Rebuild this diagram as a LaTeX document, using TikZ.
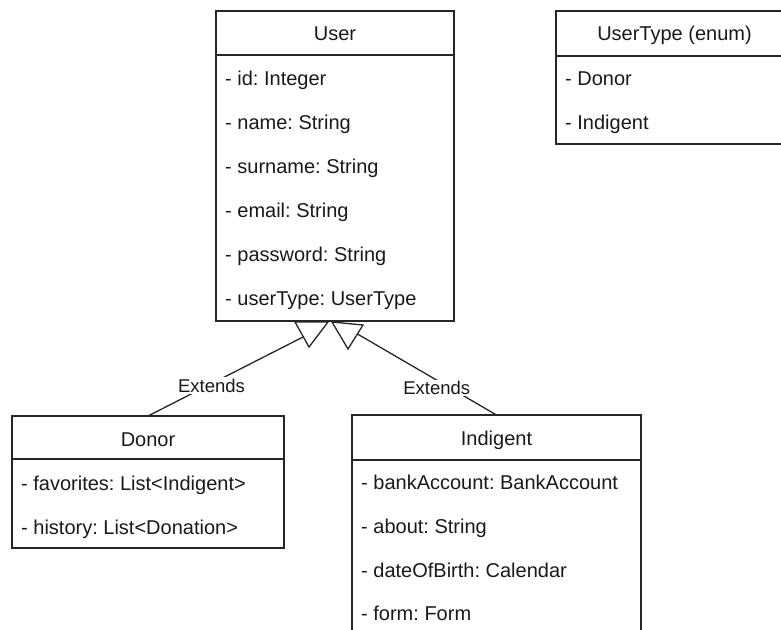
\documentclass[tikz,border=0pt]{standalone}
\usepackage{fontspec}
\setmainfont{Liberation Sans}
\frenchspacing
\begin{document}
\begin{tikzpicture}[x=1pt,y=-1pt,
  font=\fontsize{20}{24}\selectfont,
  frame/.style={draw=black!85, line width=1.4pt, fill=none, inner sep=0pt, outer sep=0pt, anchor=north west},
  sep/.style={draw=black!85, line width=1.4pt},
  title/.style={anchor=base, inner sep=0pt, text=black!90},
  attr/.style={anchor=base west, inner sep=0pt, text=black!90},
  link/.style={draw=black!85, line width=1.3pt},
  head/.style={draw=black!85, line width=1.3pt, line join=miter, fill=white},
  lbl/.style={fill=white, inner sep=1.5pt, text=black!90, font=\fontsize{18.5}{22}\selectfont}]

\useasboundingbox (0,0) rectangle (781,629);
\clip (0,0) rectangle (781,629);

% ---- User ----
\node[frame, minimum width=238pt, minimum height=310pt] (user) at (216,11) {};
\draw[sep] (216,55) -- (454,55);
\node[title] (userT) at (335,40.7) {User};
\node[attr] (u1) at (225,85) {- id: Integer};
\node[attr] (u2) at (225,129) {- name: String};
\node[attr] (u3) at (225,173) {- surname: String};
\node[attr] (u4) at (225,217) {- email: String};
\node[attr] (u5) at (225,261) {- password: String};
\node[attr] (u6) at (225,305) {- userType: UserType};

% ---- UserType (enum) ----
\node[frame, minimum width=237pt, minimum height=133pt] (utype) at (556,11) {};
\draw[sep] (556,56) -- (793,56);
\node[title] (utypeT) at (674.5,40.3) {UserType (enum)};
\node[attr] (t1) at (565,85) {- Donor};
\node[attr] (t2) at (565,129) {- Indigent};

% ---- Donor ----
\node[frame, minimum width=272pt, minimum height=132pt] (donor) at (12,416) {};
\draw[sep] (12,459) -- (284,459);
\node[title] (donorT) at (148,446) {Donor};
\node[attr] (d1) at (21,490.5) {- favorites: List<Indigent>};
\node[attr] (d2) at (21,534.5) {- history: List<Donation>};

% ---- Indigent ----
\node[frame, minimum width=289pt, minimum height=240pt] (indig) at (352,415) {};
\draw[sep] (352,460) -- (641,460);
\node[title] (indigT) at (496.5,445) {Indigent};
\node[attr] (i1) at (361,489) {- bankAccount: BankAccount};
\node[attr] (i2) at (361,533) {- about: String};
\node[attr] (i3) at (361,577) {- dateOfBirth: Calendar};
\node[attr] (i4) at (361,620) {- form: Form};

% ---- generalisation heads ----
\coordinate (la) at (295,322);
\coordinate (lb) at (328,322);
\coordinate (lc) at (309,347);
\coordinate (lend) at (303,337);
\coordinate (ra) at (332,322);
\coordinate (rb) at (363,325);
\coordinate (rc) at (348,349);
\coordinate (rend) at (357.5,334);

% ---- Extends connectors ----
\path[link] (donor.north) -- node[lbl, pos=0.41, yshift=-2pt] (lblD) {Extends} (lend);
\path[link] (indig.north) -- node[lbl, pos=0.43, yshift=-8pt] (lblI) {Extends} (rend);

\draw[head] (la) -- (lb) -- (lc) -- cycle;
\draw[head] (ra) -- (rb) -- (rc) -- cycle;
\draw[sep] (300,321) -- (360,321);
\end{tikzpicture}
\end{document}
